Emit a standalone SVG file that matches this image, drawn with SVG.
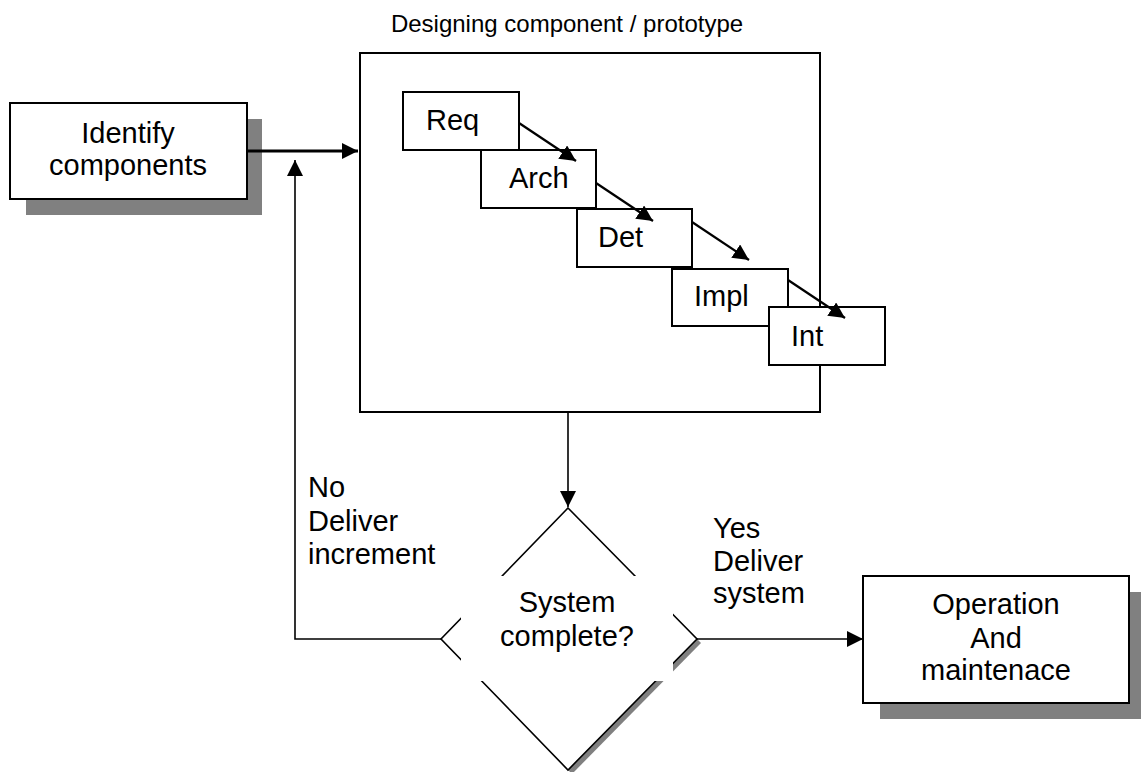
<svg xmlns="http://www.w3.org/2000/svg" width="1141" height="772" viewBox="0 0 1141 772">
  <style>
    text { font-family: "Liberation Sans", Arial, sans-serif; fill: #000; }
    .lbl { font-size: 29px; }
    .title { font-size: 24px; }
    .mid { text-anchor: middle; }
    .box { fill: #fff; stroke: #000; stroke-width: 2; }
    .shadow { fill: #808080; stroke: none; }
    .conn { fill: none; stroke: #000; stroke-width: 1.6; }
    .step { fill: none; stroke: #000; stroke-width: 2.2; }
    .thick { fill: none; stroke: #000; stroke-width: 3.2; }
  </style>
  <defs>
    <marker id="arrow" markerUnits="userSpaceOnUse" markerWidth="18" markerHeight="18" refX="16" refY="8" orient="auto">
      <path d="M0,0 L16,8 L0,16 z" fill="#000"/>
    </marker>
  </defs>

  <!-- Identify components -->
  <g id="identify">
    <rect class="shadow" x="26" y="119" width="236" height="96"/>
    <rect class="box" x="10" y="103" width="237" height="96"/>
    <text class="lbl mid" x="128" y="143">Identify</text>
    <text class="lbl mid" x="128" y="175">components</text>
  </g>

  <!-- Designing component / prototype container -->
  <g id="design">
    <text class="title mid" x="567" y="32">Designing component / prototype</text>
    <rect class="box" x="360" y="53" width="460" height="359"/>
  </g>

  <!-- Waterfall stages -->
  <g id="req">
    <rect class="box" x="403" y="92" width="116" height="58"/>
    <text class="lbl" x="426" y="130">Req</text>
  </g>
  <g id="arch">
    <rect class="box" x="481" y="150" width="115" height="58"/>
    <text class="lbl" x="509" y="188">Arch</text>
  </g>
  <g id="det">
    <rect class="box" x="577" y="209" width="115" height="58"/>
    <text class="lbl" x="598" y="247">Det</text>
  </g>
  <g id="impl">
    <rect class="box" x="672" y="269" width="116" height="57"/>
    <text class="lbl" x="694" y="306">Impl</text>
  </g>
  <g id="int">
    <rect class="box" x="769" y="307" width="116" height="58"/>
    <text class="lbl" x="791" y="346">Int</text>
  </g>

  <!-- Decision -->
  <g id="decision">
    <polygon class="shadow" points="572,512 701,643 572,774 445,643"/>
    <polygon fill="#fff" stroke="#000" stroke-width="1.6" points="568,508 697,639 568,770 441,639"/>
    <rect x="461" y="576" width="212" height="105" fill="#fff"/>
    <text class="lbl mid" x="567" y="612">System</text>
    <text class="lbl mid" x="567" y="646">complete?</text>
  </g>

  <!-- Operation and maintenance -->
  <g id="operation">
    <rect class="shadow" x="880" y="592" width="261" height="127"/>
    <rect class="box" x="863" y="576" width="266" height="127"/>
    <text class="lbl mid" x="996" y="614">Operation</text>
    <text class="lbl mid" x="996" y="648">And</text>
    <text class="lbl mid" x="996" y="680">maintenace</text>
  </g>

  <!-- Connectors -->
  <g id="connectors">
    <line class="thick" x1="247" y1="151" x2="358" y2="151" marker-end="url(#arrow)"/>
    <line class="step" x1="519" y1="123" x2="576" y2="161" marker-end="url(#arrow)"/>
    <line class="step" x1="596" y1="183" x2="653" y2="221" marker-end="url(#arrow)"/>
    <line class="step" x1="692" y1="222" x2="749" y2="260" marker-end="url(#arrow)"/>
    <line class="step" x1="788" y1="280" x2="845" y2="318" marker-end="url(#arrow)"/>
    <line class="conn" x1="568" y1="412" x2="568" y2="507" marker-end="url(#arrow)"/>
    <polyline class="conn" points="441,639 295,639 295,160" marker-end="url(#arrow)"/>
    <line class="conn" x1="697" y1="639" x2="863" y2="639" marker-end="url(#arrow)"/>
  </g>

  <!-- Branch labels -->
  <g id="labels">
    <text class="lbl" x="308" y="497">No</text>
    <text class="lbl" x="308" y="531">Deliver</text>
    <text class="lbl" x="308" y="564">increment</text>
    <text class="lbl" x="713" y="538">Yes</text>
    <text class="lbl" x="713" y="571">Deliver</text>
    <text class="lbl" x="713" y="603">system</text>
  </g>
</svg>
